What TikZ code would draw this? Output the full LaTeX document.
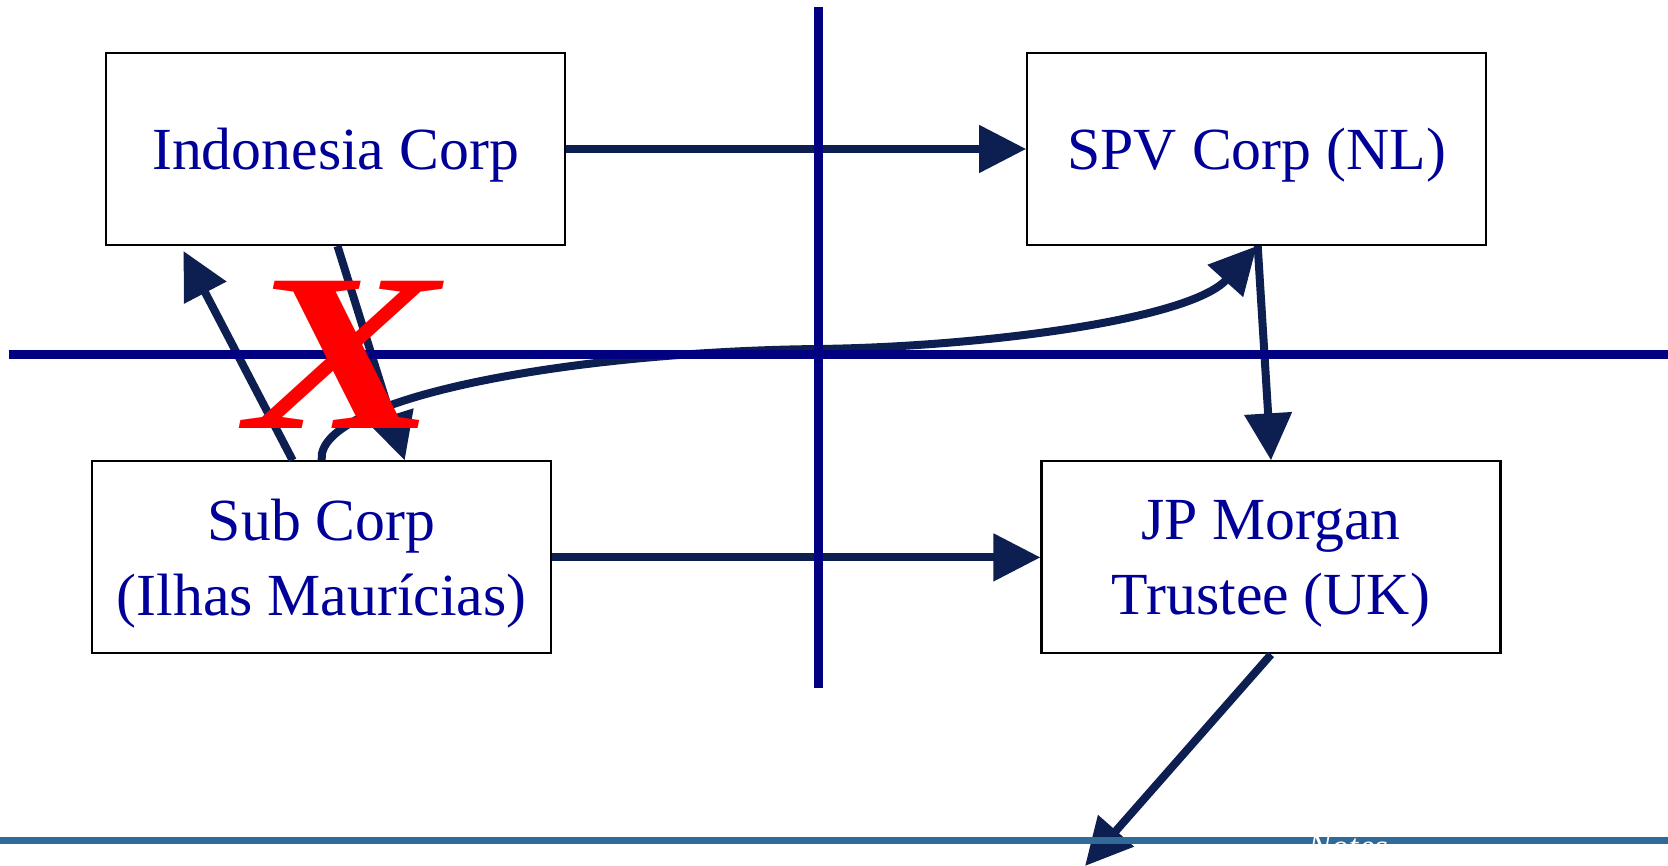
\documentclass[tikz,border=0pt]{standalone}
\usepackage{fontspec}
\setmainfont{Liberation Serif}
\usetikzlibrary{arrows.meta}

\definecolor{textblue}{RGB}{0,0,153}
\definecolor{axisnavy}{RGB}{0,0,128}
\definecolor{arrownavy}{RGB}{13,30,80}
\definecolor{rulesteel}{RGB}{48,106,153}

\tikzset{
  corpbox/.style={draw=black, line width=0.6pt, fill=white,
    minimum width=45.9mm, minimum height=19.2mm, inner sep=0pt,
    text depth=0pt, text=textblue, align=center,
    font=\fontsize{17}{21.5}\selectfont},
  flow/.style={draw=arrownavy, line width=0.8mm,
    -{Triangle[length=4.7mm,width=4.6mm]}},
  border/.style={draw=axisnavy, line width=0.9mm},
}

\begin{document}
\begin{tikzpicture}[x=0.1mm,y=-0.1mm]
  \useasboundingbox (0,0) rectangle (1668,866);

  % Define the companies
  \node[corpbox] (indo) at (335.5,149) {Indonesia Corp};
  \node[corpbox] (spv) at (1256.7,149) {SPV Corp (NL)};
  \node[corpbox] (sub) at (321.7,557.4) {Sub Corp\\(Ilhas Maurícias)};
  \node[corpbox] (jpm) at (1271,557.4) {JP Morgan\\Trustee (UK)};
  \coordinate (out) at (1085,866);

  % Flows between the companies
  \draw[flow] (indo.east) -- (spv.west);
  \draw[flow] (sub.east) -- (jpm.west);
  \draw[flow] ([xshift=-2.9mm]sub.north) -- ([xshift=-15.2mm,yshift=-0.5mm]indo.south);
  \draw[flow] ([xshift=0.2mm]indo.south) -- ([xshift=8.3mm]sub.north);
  \draw[flow] (sub.north) .. controls (315,400) and (560,352) .. (818,349)
    .. controls (980,347) and (1190,320) .. (spv.south);
  \draw[flow] ([xshift=0.1mm]spv.south) -- (jpm.north);
  \draw[flow] (jpm.south) -- (out);

  % Country borders
  \draw[border] (818.8,7) -- (818.8,688);
  \draw[border] (8.5,355) -- (1668,355);
  \draw[draw=rulesteel, line width=0.7mm] (0,840) -- (1668,840);

  % Blocked route and footer
  \node[text=red, inner sep=0pt, font=\fontsize{64}{64}\selectfont\bfseries\itshape] (block) at (343,355) {\scalebox{1.28}[1]{X}};
  \node[text=white, inner sep=0pt, anchor=base west, font=\fontsize{10}{12}\selectfont\itshape] (notes) at (1307,858) {Notes};
\end{tikzpicture}
\end{document}
